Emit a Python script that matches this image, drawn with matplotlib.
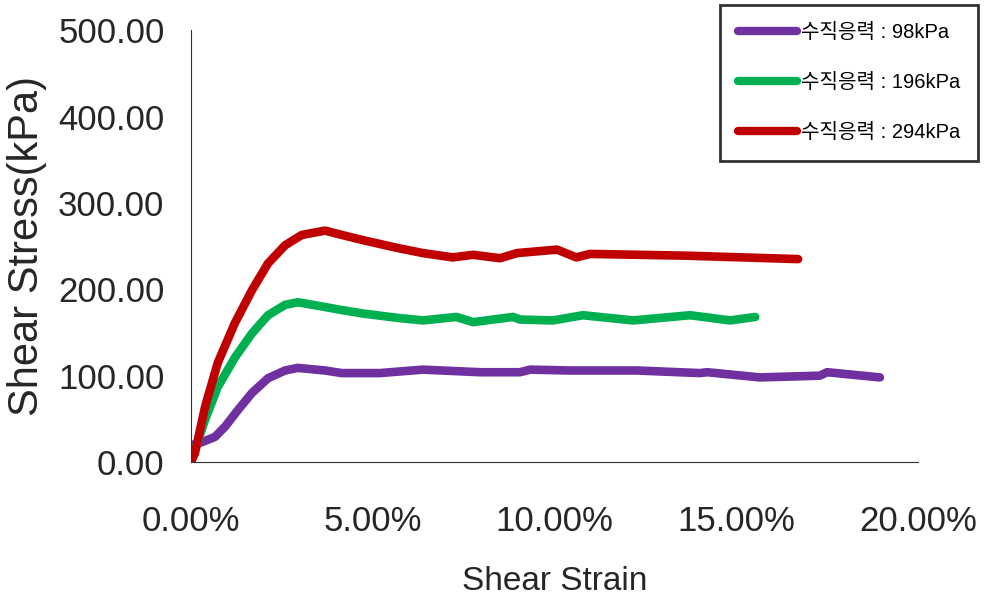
import matplotlib.pyplot as plt
from matplotlib.ticker import FuncFormatter

# Direct shear test: shear stress vs shear strain for three normal stresses
strain_98 = [0.0, 0.05, 0.30, 0.66, 0.94, 1.29, 1.68, 2.12, 2.59, 2.94, 3.69, 4.15,
             5.20, 6.38, 7.95, 9.05, 9.33, 10.4, 12.27, 14.0, 14.2, 15.65, 17.3, 17.5, 18.95]
stress_98 = [0, 20, 23, 29, 41, 60, 80, 97, 106, 109, 106, 103,
             103, 107, 104, 104, 107, 106, 106, 103, 104, 98, 100, 104, 98]

strain_196 = [0.0, 0.11, 0.39, 0.74, 1.21, 1.68, 2.12, 2.59, 2.94, 3.49, 4.15, 4.73,
              5.67, 6.38, 7.30, 7.76, 8.86, 9.05, 9.96, 10.78, 12.16, 13.73, 14.83, 15.52]
stress_196 = [0, 14, 49, 87, 121, 149, 170, 182, 185, 181, 176, 172,
              167, 164, 168, 162, 168, 165, 164, 170, 164, 170, 164, 168]

strain_294 = [0.0, 0.11, 0.39, 0.74, 1.21, 1.68, 2.12, 2.59, 3.05, 3.69, 4.15, 4.73,
              5.67, 6.38, 7.20, 7.76, 8.50, 8.97, 10.07, 10.60, 10.98, 13.6, 16.7]
stress_294 = [0, 10, 64, 115, 161, 199, 230, 251, 263, 268, 263, 257,
              248, 242, 237, 240, 236, 242, 246, 237, 241, 239, 235]

labels = ['수직응력 : 98kPa', '수직응력 : 196kPa', '수직응력 : 294kPa']
colors = ['#7030A0', '#00B050', '#C00000']

plt.rcParams['font.family'] = ['Liberation Sans', 'Noto Sans CJK KR', 'DejaVu Sans']
text_color = '#262626'

fig = plt.figure(figsize=(9.84, 6.06), dpi=100)
ax = fig.add_axes([0.194, 0.2376, 0.739, 0.7124])

series = [(strain_98, stress_98), (strain_196, stress_196), (strain_294, stress_294)]
for (x, y), lab, c in zip(series, labels, colors):
    ax.plot([v / 100 for v in x], y, color=c, lw=6.2, label=lab,
            solid_capstyle='round', solid_joinstyle='round')

ax.set_xlim(0, 0.20)
ax.set_ylim(0, 500)
ax.set_xticks([0, 0.05, 0.10, 0.15, 0.20])
ax.set_yticks([0, 100, 200, 300, 400, 500])
ax.xaxis.set_major_formatter(FuncFormatter(lambda v, p: f'{v * 100:.2f}%'))
ax.yaxis.set_major_formatter(FuncFormatter(lambda v, p: f'{v:.2f}'))
ax.tick_params(axis='both', length=0, labelsize=25, colors=text_color)
ax.tick_params(axis='x', pad=31)
ax.tick_params(axis='y', pad=19)

for side in ['top', 'right']:
    ax.spines[side].set_visible(False)
for side in ['left', 'bottom']:
    ax.spines[side].set_linestyle((0, (1, 1)))
    ax.spines[side].set_linewidth(0.8)
    ax.spines[side].set_color('#333333')

ax.set_xlabel('Shear Strain', fontsize=24, color=text_color)
ax.set_ylabel('Shear Stress(kPa)', fontsize=30, color=text_color)
ax.xaxis.set_label_coords(0.5, -0.24)
ax.yaxis.set_label_coords(-0.198, 0.5)

leg = ax.legend(loc='upper right', bbox_to_anchor=(0.994, 0.992),
                bbox_transform=fig.transFigure, borderaxespad=0,
                handlelength=2.9, handletextpad=0.2,
                labelspacing=1.55, borderpad=0.9, fancybox=False,
                prop={'family': ['Liberation Sans', 'Noto Sans CJK KR'], 'size': 14.5})
leg.get_frame().set_edgecolor('black')
leg.get_frame().set_linewidth(2)
for line in leg.get_lines():
    line.set_linewidth(6)
    line.set_solid_capstyle('round')

fig.savefig('out.png', dpi=100)
